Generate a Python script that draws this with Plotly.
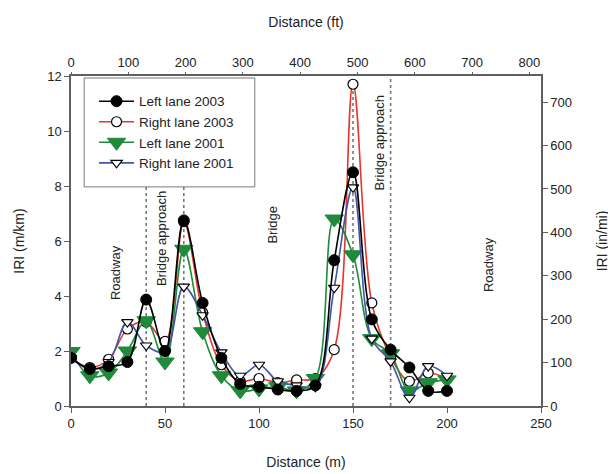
import plotly.graph_objects as go

# ---- data ----
distance_m = [0, 10, 20, 30, 40, 50, 60, 70, 80, 90, 100, 110, 120, 130, 140, 150, 160, 170, 180, 190, 200]
left_2003 = [1.75, 1.35, 1.45, 1.6, 3.87, 2.0, 6.75, 3.75, 1.75, 0.8, 0.7, 0.6, 0.55, 0.75, 5.3, 8.5, 3.15, 2.05, 1.4, 0.55, 0.55]
right_2003 = [1.75, 1.4, 1.7, 2.8, 3.05, 2.35, 6.7, 3.4, 1.5, 0.9, 1.0, 0.85, 0.95, 1.0, 2.05, 11.7, 3.75, 1.8, 0.9, 1.2, 1.0]
left_2001 = [1.98, 1.1, 1.2, 2.0, 3.1, 1.6, 5.7, 2.7, 1.1, 0.55, 0.62, 0.7, 0.55, 1.0, 6.8, 5.5, 2.45, 1.9, 0.55, 0.85, 0.95]
right_2001 = [1.75, 1.35, 1.6, 3.05, 2.2, 1.97, 4.34, 3.3, 1.95, 1.1, 1.5, 0.9, 0.75, 0.7, 4.3, 7.95, 2.45, 1.62, 0.3, 1.45, 1.1]

section_bounds_m = [40, 60, 150, 170]
section_labels = ["Roadway", "Bridge approach", "Bridge", "Bridge approach", "Roadway"]
section_label_x = [23.4, 47.8, 107.2, 164, 222.4]
section_label_y = [4.87, 6.1, 6.58, 9.56, 5.13]

x_ticks_m = [0, 50, 100, 150, 200, 250]
y_ticks = [0, 2, 4, 6, 8, 10, 12]
ft_ticks = [0, 100, 200, 300, 400, 500, 600, 700, 800]
inmi_ticks = [0, 100, 200, 300, 400, 500, 600, 700]

M_PER_FT = 0.3048
INMI_PER_MKM = 63.36
X_MAX = 250
Y_MAX = 12

FONT = "Liberation Sans, Arial, sans-serif"
AX = "#5f5f5f"

fig = go.Figure()

# (name, values, line colour, marker, legend rank); drawn in this list's order
series = [
    ("Right lane 2003", right_2003, "#e8342c",
     dict(symbol="circle", size=10, color="white", line=dict(color="black", width=1.2)), 2),
    ("Left lane 2001", left_2001, "#1e8a3a",
     dict(symbol="triangle-down", size=16, color="#1e8a3a", line=dict(color="#1e8a3a", width=1)), 3),
    ("Right lane 2001", right_2001, "#4256a6",
     dict(symbol="triangle-down", size=10, color="white", line=dict(color="black", width=1.2)), 4),
    ("Left lane 2003", left_2003, "black",
     dict(symbol="circle", size=11, color="black", line=dict(color="black", width=1)), 1),
]
for name, vals, col, mk, rank in series:
    fig.add_trace(go.Scatter(
        x=distance_m, y=vals, name=name, mode="lines+markers", legendrank=rank,
        line=dict(color=col, width=1.6, shape="spline", smoothing=1.0),
        marker=mk,
    ))

# empty trace to anchor secondary axes
fig.add_trace(go.Scatter(x=[], y=[], xaxis="x2", yaxis="y2", showlegend=False, hoverinfo="skip"))

shapes = []
for b in section_bounds_m:
    shapes.append(dict(type="line", xref="x", yref="y", x0=b, x1=b, y0=0, y1=Y_MAX,
                       line=dict(color="#777777", width=1.6, dash="dot"), layer="below"))
# legend frame in the subplot's own shape layer: covers the dotted lines, sits under the traces
fx0, fx1, fy0, fy1 = 0.028, 0.391, 0.664, 0.994
shapes.append(dict(type="rect", xref="x", yref="y",
                   x0=fx0 * X_MAX, x1=fx1 * X_MAX, y0=fy0 * Y_MAX, y1=fy1 * Y_MAX,
                   line=dict(color="#777777", width=1), fillcolor="white", layer="below"))

annotations = []
for txt, ax_, ay_ in zip(section_labels, section_label_x, section_label_y):
    annotations.append(dict(x=ax_, y=ay_, xref="x", yref="y", text=txt, showarrow=False,
                            textangle=-90, font=dict(family=FONT, size=13, color="#222222")))

axis_common = dict(showline=True, linecolor=AX, linewidth=1.5, ticks="outside", ticklen=5,
                   tickcolor=AX, tickwidth=1.2, showgrid=False, zeroline=False, automargin=False,
                   tickfont=dict(family=FONT, size=13, color="#222222"))

# page body has an 8px margin, so the figure is sized to fit inside the 616x474 window
fig.update_layout(
    width=608, height=466,
    margin=dict(l=63, r=75, t=68, b=68),
    paper_bgcolor="white", plot_bgcolor="white",
    font=dict(family=FONT, size=13, color="#222222"),
    xaxis=dict(range=[0, X_MAX], tickvals=x_ticks_m,
               title=dict(text="Distance (m)", font=dict(family=FONT, size=14), standoff=27),
               **axis_common),
    yaxis=dict(range=[0, Y_MAX], tickvals=y_ticks,
               title=dict(text="IRI (m/km)", font=dict(family=FONT, size=14), standoff=19),
               **axis_common),
    xaxis2=dict(overlaying="x", side="top", range=[0, X_MAX / M_PER_FT], tickvals=ft_ticks,
                ticklen=2,
                title=dict(text="Distance (ft)", font=dict(family=FONT, size=14), standoff=24),
                **{k: v for k, v in axis_common.items() if k != "ticklen"}),
    yaxis2=dict(overlaying="y", side="right", range=[0, Y_MAX * INMI_PER_MKM], tickvals=inmi_ticks,
                title=dict(text="IRI (in/mi)", font=dict(family=FONT, size=14), standoff=26),
                **axis_common),
    legend=dict(x=0.049, y=0.97, xanchor="left", yanchor="top",
                bgcolor="rgba(0,0,0,0)", borderwidth=0,
                font=dict(family=FONT, size=13.5, color="#222222"),
                itemwidth=35, tracegroupgap=0, traceorder="normal"),
    shapes=shapes,
    annotations=annotations,
    showlegend=True,
)

fig.write_html("out.html")
